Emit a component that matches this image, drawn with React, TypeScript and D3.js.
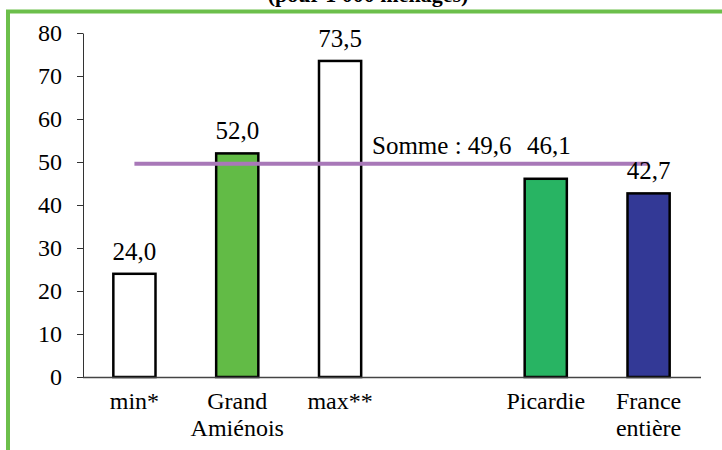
import { useEffect, useRef } from 'react';
import * as d3 from 'd3';

// Chart data
const categories = ['min*', 'Grand Amiénois', 'max**', 'gap', 'Picardie', 'France entière'];
const categoryLabels = [['min*'], ['Grand', 'Amiénois'], ['max**'], [], ['Picardie'], ['France', 'entière']];
const values: (number | null)[] = [24.0, 52.0, 73.5, null, 46.1, 42.7];
const sumValue = 49.6;
const sumLabel = 'Somme : 49,6';
const yTicks = [0, 10, 20, 30, 40, 50, 60, 70, 80];
const title = '(pour 1 000 ménages)';

const barFill: Record<string, string> = {
  'min*': '#ffffff',
  'Grand Amiénois': '#62bb46',
  'max**': '#ffffff',
  Picardie: '#28b463',
  'France entière': '#333996',
};

const fmt = (v: number) => d3.format('.1f')(v).replace('.', ',');

export default function App() {
  const ref = useRef<SVGSVGElement>(null);

  useEffect(() => {
    if (!ref.current) return;
    const svg = d3.select(ref.current);
    svg.selectAll('*').remove();

    const left = 83;
    const right = 700;
    const top = 33;
    const bottom = 377;

    const x = d3
      .scaleBand<string>()
      .domain(categories)
      .range([left, right])
      .paddingInner(0.59)
      .paddingOuter(0.295);

    const y = d3.scaleLinear().domain([0, 80]).range([bottom, top]);

    // Frame (green border, clipped at right and bottom)
    svg
      .append('rect')
      .attr('x', 8)
      .attr('y', 11.5)
      .attr('width', 900)
      .attr('height', 600)
      .attr('fill', 'none')
      .attr('stroke', '#6cbf4b')
      .attr('stroke-width', 4);

    // Title (only its lower part is visible)
    svg
      .append('text')
      .attr('x', 368)
      .attr('y', 2)
      .attr('text-anchor', 'middle')
      .attr('font-weight', 'bold')
      .attr('font-size', 22)
      .text(title);

    // Y axis
    const yAxis = svg
      .append('g')
      .attr('transform', `translate(${left},0)`)
      .call(d3.axisLeft(y).tickValues(yTicks).tickSize(6).tickPadding(15).tickSizeOuter(0).tickFormat(d3.format('d')));
    yAxis.attr('font-family', null).attr('font-size', null);
    yAxis.select('.domain').attr('stroke', '#333');
    yAxis.selectAll('line').attr('stroke', '#333');
    yAxis.selectAll('text').attr('font-size', 24).attr('fill', '#000');

    // Bars
    const rows = categories.map((c, i) => ({ c, v: values[i], lines: categoryLabels[i] }));
    const bw = x.bandwidth();

    rows.forEach((r) => {
      if (r.v == null) return;
      svg
        .append('rect')
        .attr('x', x(r.c)!)
        .attr('y', y(r.v))
        .attr('width', bw)
        .attr('height', y(0) - y(r.v))
        .attr('fill', barFill[r.c])
        .attr('stroke', '#000')
        .attr('stroke-width', 2.5);
    });

    // X axis line
    svg
      .append('line')
      .attr('x1', left)
      .attr('x2', right + 1)
      .attr('y1', y(0) + 0.5)
      .attr('y2', y(0) + 0.5)
      .attr('stroke', '#444')
      .attr('stroke-width', 1.5);

    // Sum line across all categories
    const line = d3
      .line<string>()
      .x((c) => x(c)! + bw / 2)
      .y(() => y(sumValue));
    svg
      .append('path')
      .datum(categories)
      .attr('d', line)
      .attr('fill', 'none')
      .attr('stroke', '#a878b8')
      .attr('stroke-width', 4);

    // Value labels
    rows.forEach((r) => {
      if (r.v == null) return;
      const lifted = r.c === 'Picardie';
      svg
        .append('text')
        .attr('x', x(r.c)! + bw / 2 + (lifted ? 3 : 0))
        .attr('y', lifted ? y(sumValue) - 10 : y(r.v) - 14)
        .attr('text-anchor', 'middle')
        .attr('font-size', 25)
        .text(fmt(r.v));
    });

    svg
      .append('text')
      .attr('x', 372)
      .attr('y', y(sumValue) - 10)
      .attr('font-size', 25)
      .text(sumLabel);

    // Category labels
    rows.forEach((r) => {
      r.lines.forEach((t, j) => {
        svg
          .append('text')
          .attr('x', x(r.c)! + bw / 2)
          .attr('y', 409 + j * 27)
          .attr('text-anchor', 'middle')
          .attr('font-size', 24)
          .text(t);
      });
    });
  }, []);

  return (
    <svg
      ref={ref}
      width={722}
      height={450}
      style={{
        position: 'absolute',
        left: 0,
        top: 0,
        background: '#fff',
        fontFamily: "'Liberation Serif', 'Times New Roman', Tinos, serif",
      }}
    />
  );
}
